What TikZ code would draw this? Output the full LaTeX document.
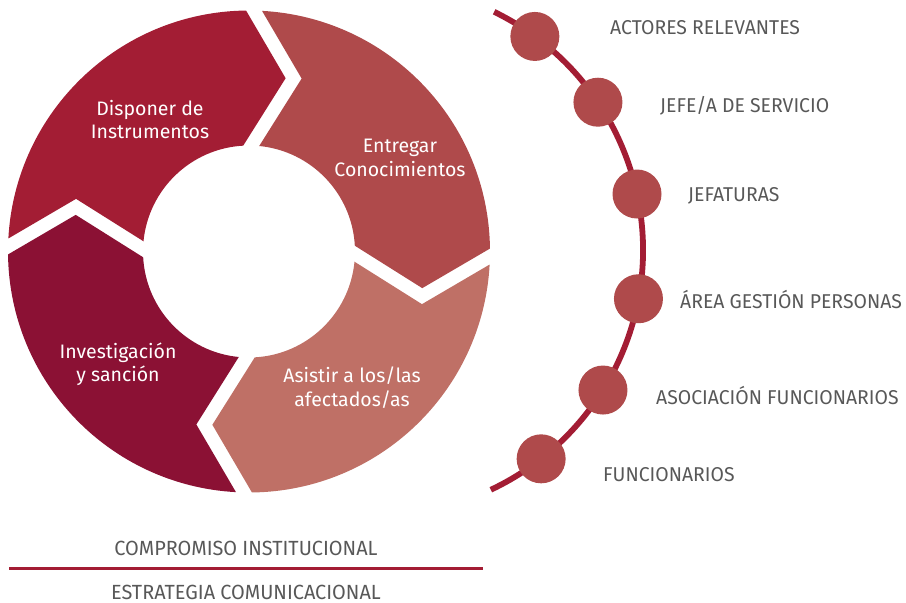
\documentclass[tikz,border=0pt]{standalone}
\usepackage{fontspec}
\setmainfont{Fira Sans}
\newfontfamily\labfont{Fira Sans}[FakeStretch=0.97]
\definecolor{cDisp}{RGB}{163,29,52}
\definecolor{cEntr}{RGB}{175,74,75}
\definecolor{cAsis}{RGB}{191,112,102}
\definecolor{cInve}{RGB}{139,17,52}
\definecolor{cLine}{RGB}{163,29,52}
\definecolor{cDot}{RGB}{175,74,75}
\definecolor{cGray}{RGB}{88,88,88}
\tikzset{
  ringtxt/.style={text=white, align=center, inner sep=0pt, font=\fontsize{19.5}{23.5}\selectfont},
  labtxt/.style={text=cGray, anchor=base west, inner sep=0pt, font=\labfont\fontsize{20}{24}\selectfont},
  bottxt/.style={text=cGray, anchor=base, inner sep=0pt, font=\labfont\fontsize{20.5}{24}\selectfont},
  dotnode/.style={circle, fill=cDot, minimum size=49pt, inner sep=0pt},
}
\newcommand{\ringseg}[3]{% color, start gap angle, end gap angle
  \fill[#1] ({#2-1.9}:241pt) arc[start angle={#2-1.9}, end angle={#3+1.9}, radius=241pt]
    -- ({#3-10.74}:177.1pt) -- ({#3+4.33}:106pt)
    arc[start angle={#3+4.33}, end angle={#2-4.33}, radius=106pt]
    -- ({#2-15.73}:180.8pt) -- cycle;}
\begin{document}
\begin{tikzpicture}[x=1pt,y=1pt]
\useasboundingbox (0,0) rectangle (906,-603);
\begin{scope}[shift={(249,-251.5)}]
  \ringseg{cDisp}{178.8}{88.8}
  \ringseg{cEntr}{88.8}{-1.2}
  \ringseg{cAsis}{-1.2}{-91.2}
  \ringseg{cInve}{-91.2}{-181.2}
\end{scope}
\node[ringtxt] (s1) at (150,-119.6) {Disponer de\\Instrumentos};
\node[ringtxt] (s2) at (400,-157.8) {Entregar\\Conocimientos};
\node[ringtxt] (s3) at (352,-387.4) {Asistir a los/las\\afectados/as};
\node[ringtxt] (s4) at (118,-364.5) {Investigación\\y sanción};
\begin{scope}[shift={(378,-250)}]
  \draw[cLine, line width=5.8pt] (64:265pt) arc[start angle=64, end angle=-64.8, radius=265pt];
  \node[dotnode] (d1) at (53.7:265pt) {};
  \node[dotnode] (d2) at (33.9:265pt) {};
  \node[dotnode] (d3) at (12.2:265pt) {};
  \node[dotnode] (d4) at (-10.6:265pt) {};
  \node[dotnode] (d5) at (-31.9:265pt) {};
  \node[dotnode] (d6) at (-52:265pt) {};
\end{scope}
\node[labtxt] (l1) at (610,-34) {ACTORES RELEVANTES};
\node[labtxt] (l2) at (660,-112.3) {JEFE/A DE SERVICIO};
\node[labtxt] (l3) at (688,-201.7) {JEFATURAS};
\node[labtxt] (l4) at (680,-308) {ÁREA GESTIÓN PERSONAS};
\node[labtxt] (l5) at (656,-404) {ASOCIACIÓN FUNCIONARIOS};
\node[labtxt] (l6) at (603,-481.7) {FUNCIONARIOS};
\node[bottxt] (b1) at (246,-555) {COMPROMISO INSTITUCIONAL};
\coordinate (hl) at (9,-568.3);
\coordinate (hr) at (483,-568.3);
\draw[cLine, line width=2.4pt] (hl) -- (hr);
\node[bottxt] (b2) at (246,-599) {ESTRATEGIA COMUNICACIONAL};
\end{tikzpicture}
\end{document}
